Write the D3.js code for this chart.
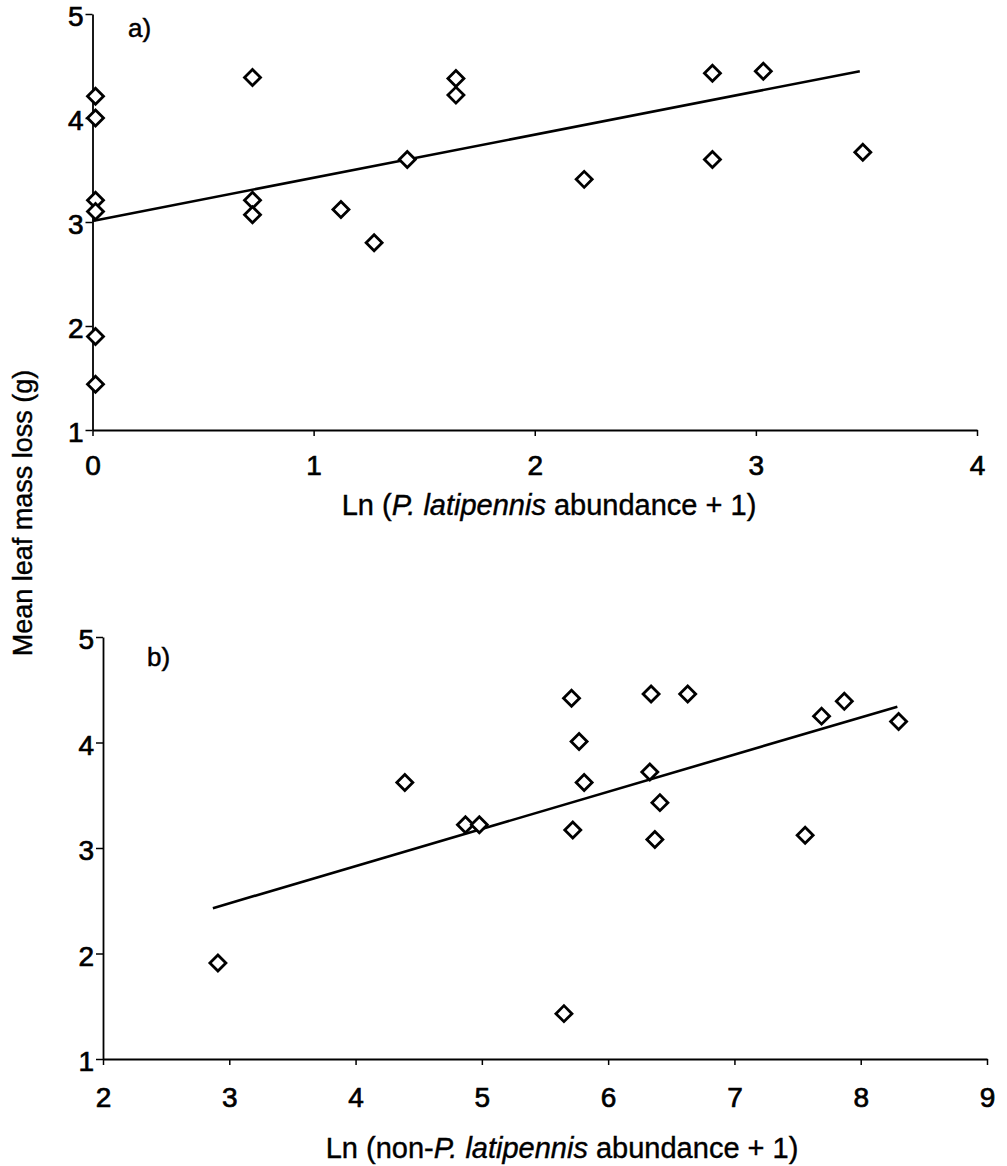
<!DOCTYPE html>
<html><head><meta charset="utf-8">
<script src="https://cdn.jsdelivr.net/npm/d3@7"></script>
<style>
body{margin:0;background:#fff}
text{font-family:"Liberation Sans",Arial,sans-serif;fill:#000}
</style>
</head><body>
<svg id="c" width="1007" height="1166"></svg>
<script>
// Panel a data
const xA = [0,0,0,0,0,0, 0.71,0.71,0.71, 1.11, 1.26, 1.41, 1.63,1.63, 2.21, 2.79,2.79, 3.02, 3.47];
const yA = [4.21,4.00,3.21,3.10,1.90,1.44, 4.39,3.21,3.07, 3.12, 2.80, 3.60, 4.38,4.22, 3.41, 4.43,3.60, 4.45, 3.67];
const fitAx = [0, 3.47];
const fitAy = [3.01, 4.45];
const ticksAx = [0,1,2,3,4];
const ticksY = [1,2,3,4,5];

// Panel b data
const xB = [2.91, 4.39, 4.87, 4.98, 5.71, 5.77, 5.81, 5.72, 5.65, 6.34, 6.63, 6.33, 6.41, 6.37, 7.56, 7.69, 7.87, 8.30];
const yB = [1.91, 3.62, 3.22, 3.22, 4.42, 4.01, 3.62, 3.17, 1.43, 4.46, 4.46, 3.72, 3.43, 3.08, 3.12, 4.25, 4.39, 4.20];
const fitBx = [2.87, 8.29];
const fitBy = [2.43, 4.34];
const ticksBx = [2,3,4,5,6,7,8,9];

const svg = d3.select("#c");

function panel(cfg){
  const g = svg.append("g");
  const x = d3.scaleLinear().domain(cfg.xd).range(cfg.xr);
  const y = d3.scaleLinear().domain([1,5]).range(cfg.yr);

  const ya = g.append("g").attr("transform",`translate(${cfg.xr[0]},0)`)
    .call(d3.axisLeft(y).tickValues(ticksY).tickFormat(d3.format("d")).tickSize(7).tickPadding(2).tickSizeOuter(0));
  ya.selectAll(".tick text").attr("dy","0.42em");
  const xa = g.append("g").attr("transform",`translate(0,${cfg.yr[0]})`)
    .call(d3.axisBottom(x).tickValues(cfg.xt).tickFormat(d3.format("d")).tickSize(6).tickPadding(cfg.xpad).tickSizeOuter(0));
  [ya,xa].forEach(a=>{
    a.select(".domain").attr("stroke","#000").attr("stroke-width",1.8);
    a.selectAll(".tick line").attr("stroke","#000").attr("stroke-width",1.5);
    a.selectAll(".tick text").style("font-size","28px").attr("fill","#000")
      .attr("stroke","#000").attr("stroke-width",0.7);
  });

  g.append("line")
    .attr("x1",x(cfg.fx[0])).attr("y1",y(cfg.fy[0]))
    .attr("x2",x(cfg.fx[1])).attr("y2",y(cfg.fy[1]))
    .attr("stroke","#000").attr("stroke-width",2.6);

  const sym = d3.symbol().type(d3.symbolSquare).size(128);
  g.selectAll("path.pt").data(cfg.xs.map((v,i)=>[v,cfg.ys[i]])).join("path")
    .attr("class","pt")
    .attr("d",sym)
    .attr("transform",d=>`translate(${x(d[0])+cfg.dx},${y(d[1])}) rotate(45)`)
    .attr("fill","#fff").attr("stroke","#000").attr("stroke-width",2.8);

  g.append("text").attr("x",cfg.lab[0]).attr("y",cfg.lab[1])
    .style("font-size","26px").attr("stroke","#000").attr("stroke-width",0.5).text(cfg.label);

  const t = g.append("text").attr("x",cfg.title[0]).attr("y",cfg.title[1])
    .attr("text-anchor","middle").style("font-size","29px")
    .attr("stroke","#000").attr("stroke-width",0.4);
  cfg.titleParts.forEach(p=>{
    t.append("tspan").attr("font-style",p[1]?"italic":"normal").text(p[0]);
  });
}

panel({xd:[0,4], xr:[92.5,977], yr:[430,14], xt:ticksAx, xpad:19, dx:3,
  xs:xA, ys:yA, fx:fitAx, fy:fitAy, label:"a)", lab:[128,37],
  title:[549,515], titleParts:[["Ln ("],["P. latipennis",1],[" abundance + 1)"]]});

panel({xd:[2,9], xr:[103,987], yr:[1059,637], xt:ticksBx, xpad:22, dx:0,
  xs:xB, ys:yB, fx:fitBx, fy:fitBy, label:"b)", lab:[147,666],
  title:[562,1158], titleParts:[["Ln (non-"],["P. latipennis",1],[" abundance + 1)"]]});

svg.append("text")
  .attr("transform","translate(32,513) rotate(-90)")
  .attr("text-anchor","middle").style("font-size","27px")
  .attr("stroke","#000").attr("stroke-width",0.4)
  .text("Mean leaf mass loss (g)");
</script>
</body></html>
